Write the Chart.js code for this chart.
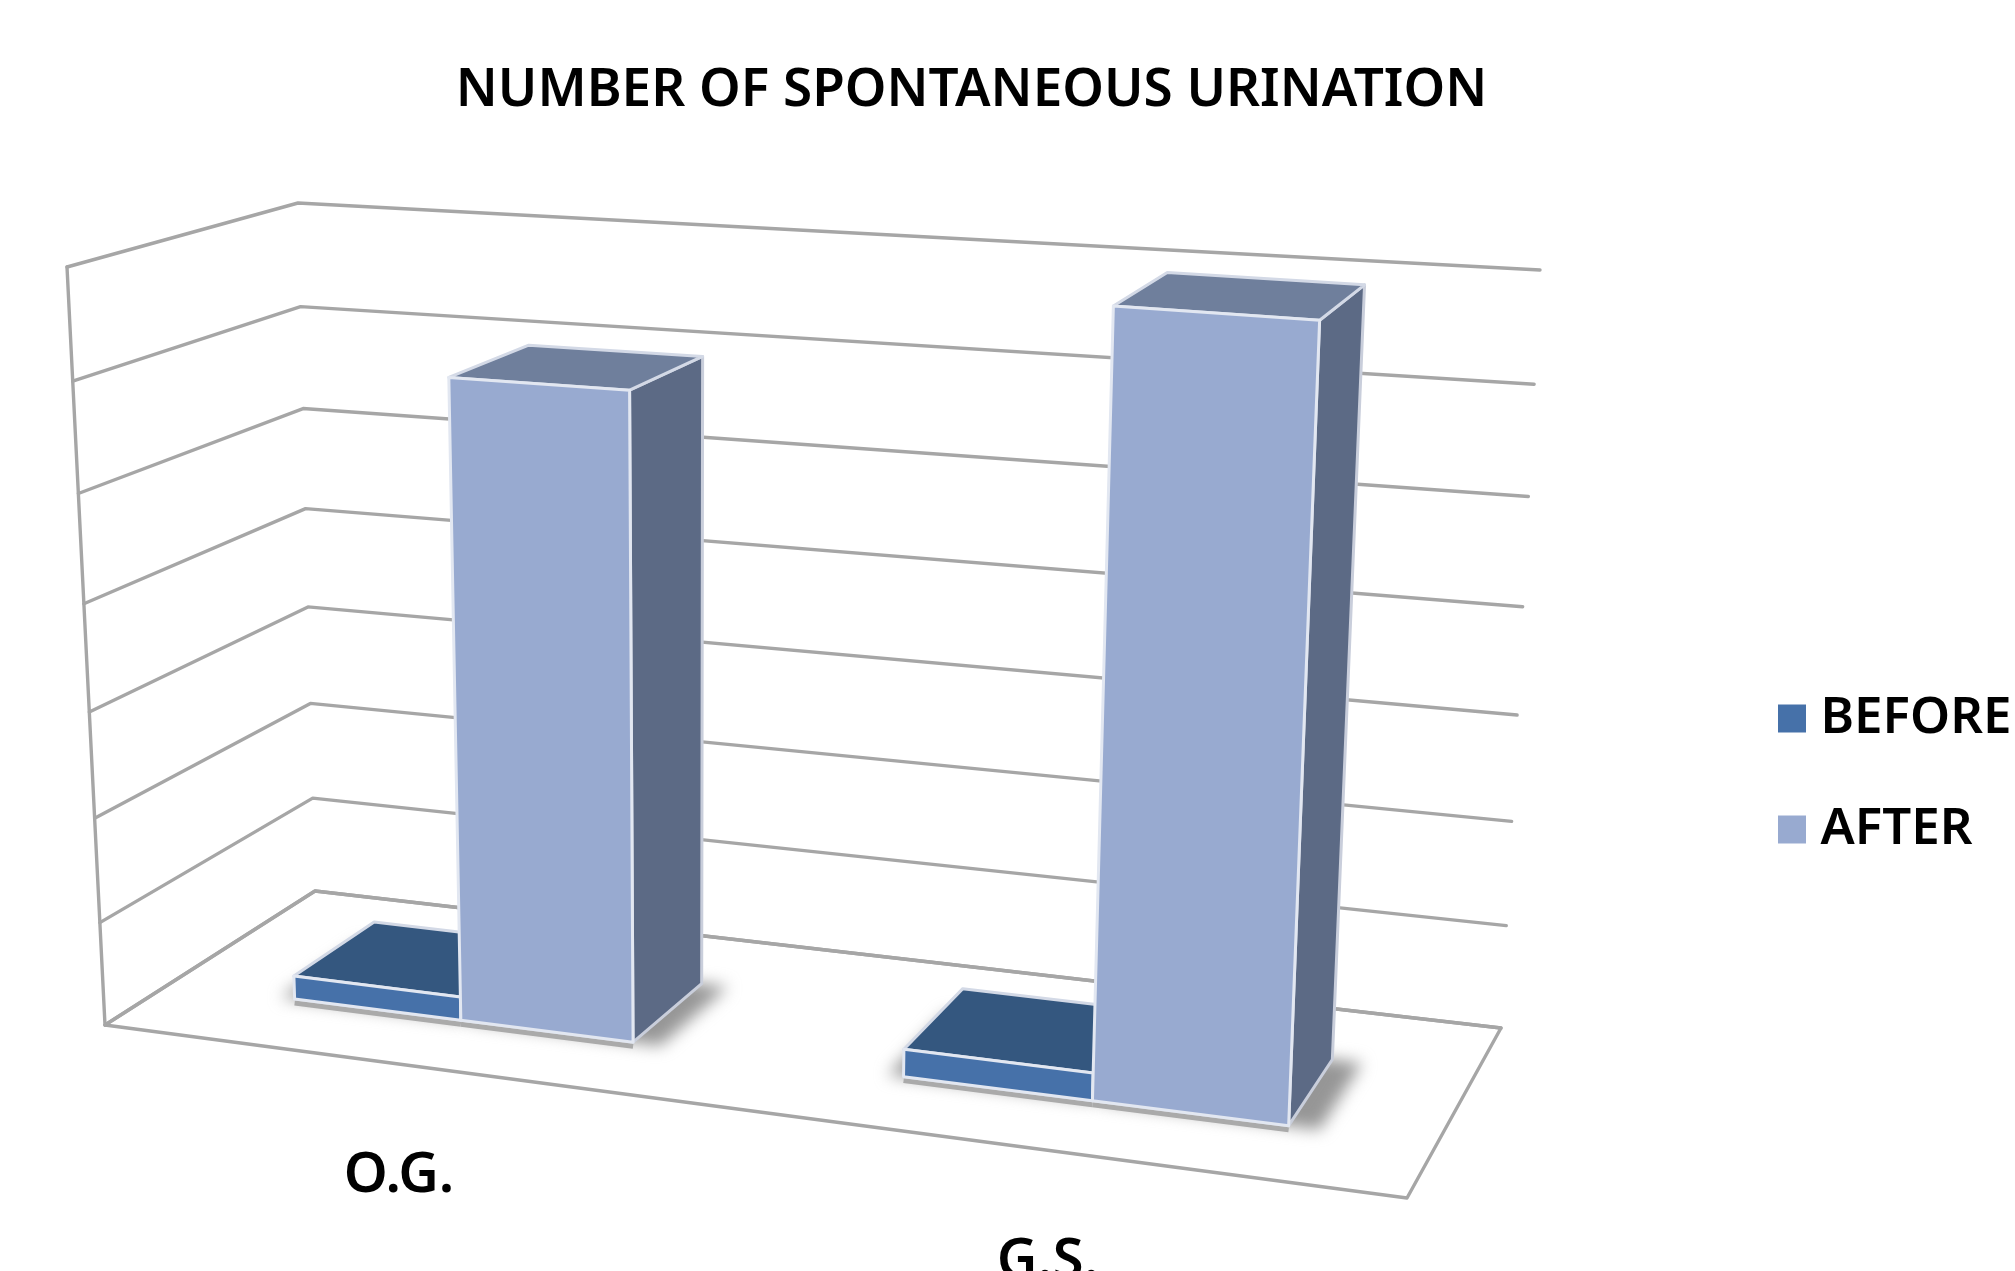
<!DOCTYPE html>
<html><head><meta charset="utf-8">
<script src="https://cdn.jsdelivr.net/npm/chart.js@4/dist/chart.umd.js"></script>
<style>html,body{margin:0;padding:0;background:#fff}canvas{display:block}</style>
</head><body>
<canvas id="c" width="2015" height="1271"></canvas>
<script>
const categories = ['O.G.', 'G.S.'];
const seriesNames = ['BEFORE', 'AFTER'];
const beforeValues = [0.23, 0.26];
const afterValues = [6, 7];
const titleText = 'NUMBER OF SPONTANEOUS URINATION';

const frontColors = ['#4671A9', '#98AAD0'];
const topColors = ['#34577F', '#6F7F9C'];
const sideColors = ['#2C4A70', '#5C6A85'];
const FONT = '"Noto Sans"';

// View projection of the 3D plot box: floor corners and how far each corner rises at axis maximum
const floorQuad = [[105,1025],[1407,1198],[1501,1028],[315,891]];
const riseQuad = [[-38,-758],[38,-836],[39,-758],[-17,-688]];
const bend = 0.064, depthFront = 0.29, depthBack = 0.69, barNudge = 0.003;

const H = (() => {
  const [[x0,y0],[x1,y1],[x2,y2],[x3,y3]] = floorQuad;
  const dx1=x1-x2, dx2=x3-x2, sx=x0-x1+x2-x3, dy1=y1-y2, dy2=y3-y2, sy=y0-y1+y2-y3;
  const det=dx1*dy2-dx2*dy1;
  const g=(sx*dy2-dx2*sy)/det, h=(dx1*sy-sx*dy1)/det;
  return {a:x1-x0+g*x1,b:x3-x0+h*x3,c:x0,d:y1-y0+g*y1,e:y3-y0+h*y3,f:y0,g,h};
})();
function project(u,w,v){
  const q=H.g*u+H.h*w+1;
  const x=(H.a*u+H.b*w+H.c)/q, y=(H.d*u+H.e*w+H.f)/q;
  const r=i=>(1-w)*((1-u)*riseQuad[0][i]+u*riseQuad[1][i])+w*((1-u)*riseQuad[3][i]+u*riseQuad[2][i]);
  const t=v-bend*v*(1-v);
  return [x+r(0)*t,y+r(1)*t];
}
function poly(ctx,pts){ctx.beginPath();pts.forEach((p,i)=>i?ctx.lineTo(p[0],p[1]):ctx.moveTo(p[0],p[1]));ctx.closePath();}
function line(ctx,pts){ctx.beginPath();pts.forEach((p,i)=>i?ctx.lineTo(p[0],p[1]):ctx.moveTo(p[0],p[1]));ctx.stroke();}

const box3d = {
  id:'box3d',
  afterLayout(chart){
    const t=chart.titleBlock; t.left-=36; t.right-=36;
    const l=chart.legend; l.left=1729; l.right=2015; l.top=633; l.bottom=1271;
  },
  beforeDatasetsDraw(chart){
    const ctx=chart.ctx, xs=chart.scales.x, ys=chart.scales.y;
    const vOf=val=>(ys.bottom-ys.getPixelForValue(val))/ys.height;
    ctx.save();
    ctx.lineCap='round';ctx.lineJoin='round';ctx.strokeStyle='#a6a6a6';ctx.lineWidth=3.4;
    poly(ctx,[project(0,0,0),project(1,0,0),project(1,1,0),project(0,1,0)]);ctx.stroke();
    ys.ticks.forEach(t=>{const v=vOf(t.value);line(ctx,[project(0,0,v),project(0,1,v),project(1,1,v)]);});
    line(ctx,[project(0,0,0),project(0,0,vOf(ys.max))]);

    const bars=[];
    chart.data.datasets.forEach((ds,di)=>{
      chart.getDatasetMeta(di).data.forEach(el=>{
        bars.push({di,u0:(el.x-el.width/2-xs.left)/xs.width+barNudge,u1:(el.x+el.width/2-xs.left)/xs.width+barNudge,v:(ys.bottom-el.y)/ys.height});
      });
    });
    // soft floor shadows, fading outward from the bar feet
    ctx.save();ctx.filter='blur(8px)';ctx.fillStyle='#969696';
    bars.forEach(b=>{
      const pad=b.di===0?-0.012:0.004, right=b.di===0?0:0.022;
      poly(ctx,[project(b.u0+pad,depthFront,0),project(b.u1+right,depthFront,0),project(b.u1+right,depthBack,0),project(b.u0+pad,depthBack,0)]);
      ctx.fill();
    });
    ctx.restore();
    // hard contact line under the front feet
    ctx.save();ctx.strokeStyle='#aaaaaa';ctx.lineWidth=5;ctx.lineCap='butt';
    bars.forEach(b=>{
      const a=project(b.u0,depthFront,0),c=project(b.u1,depthFront,0);
      line(ctx,[[a[0],a[1]+4],[c[0],c[1]+4]]);
    });
    ctx.restore();
    bars.forEach(b=>{
      const f=depthFront,k=depthBack;
      const faces=[
        {c:sideColors[b.di],s:'#c9cedb',p:[project(b.u1,f,0),project(b.u1,k,0),project(b.u1,k,b.v),project(b.u1,f,b.v)]},
        {c:topColors[b.di],s:'#d3d9e6',p:[project(b.u0,f,b.v),project(b.u1,f,b.v),project(b.u1,k,b.v),project(b.u0,k,b.v)]},
        {c:frontColors[b.di],s:'#e2e7f1',p:[project(b.u0,f,0),project(b.u1,f,0),project(b.u1,f,b.v),project(b.u0,f,b.v)]}
      ];
      faces.forEach(o=>{poly(ctx,o.p);ctx.fillStyle=o.c;ctx.fill();ctx.strokeStyle=o.s;ctx.lineWidth=3;ctx.stroke();});
    });
    ctx.fillStyle='#000';ctx.font='600 56px '+FONT;ctx.textAlign='center';ctx.textBaseline='middle';
    categories.forEach((c,i)=>{
      const p=project((xs.getPixelForTick(i)-xs.left)/xs.width,0,0);
      ctx.fillText(c,p[0],p[1]+112);
    });
    ctx.restore();
    return false;
  }
};

new Chart(document.getElementById('c'),{
  type:'bar',
  data:{labels:categories,datasets:[
    {label:seriesNames[0],data:beforeValues,backgroundColor:frontColors[0]},
    {label:seriesNames[1],data:afterValues,backgroundColor:frontColors[1]}
  ]},
  plugins:[box3d],
  options:{
    responsive:false,animation:false,
    categoryPercentage:2/3.5,barPercentage:1,
    scales:{
      x:{display:false,offset:true},
      y:{display:false,min:0,max:7,ticks:{stepSize:1}}
    },
    plugins:{
      tooltip:{enabled:false},
      title:{display:true,text:titleText,color:'#000',font:{family:FONT,size:53,weight:'600'},padding:{top:59,bottom:10}},
      legend:{position:'right',align:'start',labels:{
        color:'#000',font:{family:FONT,size:51,weight:'600'},
        boxWidth:6,boxHeight:6,padding:60,
        generateLabels(chart){
          return Chart.defaults.plugins.legend.labels.generateLabels(chart).map(l=>({...l,lineWidth:22,strokeStyle:l.fillStyle}));
        }
      }}
    }
  }
});
</script>
</body></html>
